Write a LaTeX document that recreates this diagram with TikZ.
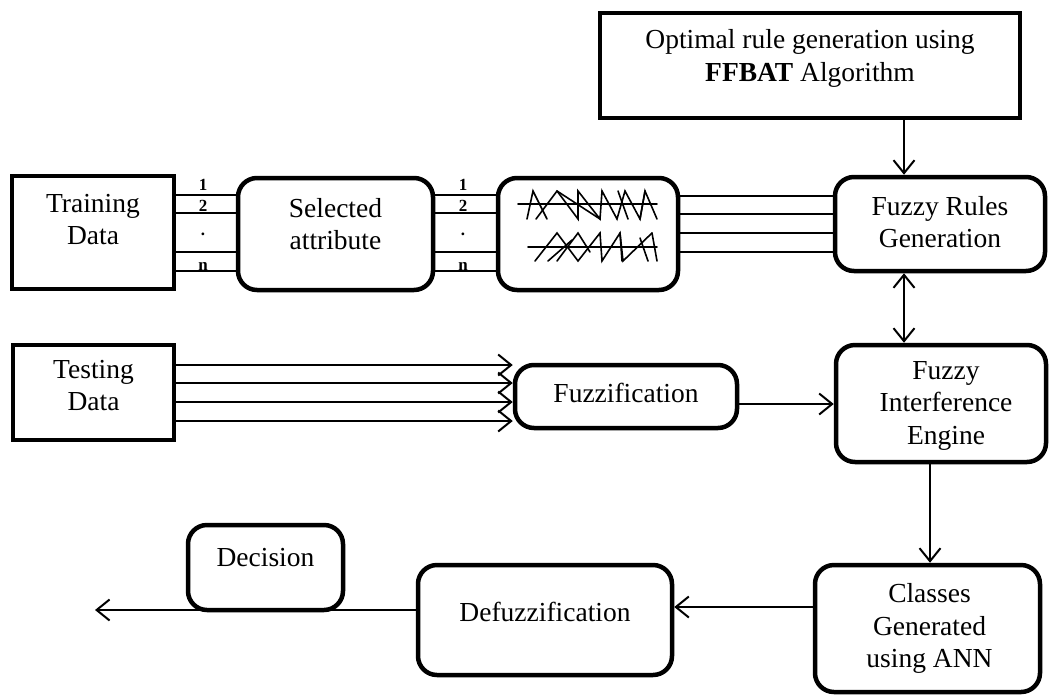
\documentclass[tikz,border=0pt]{standalone}
\usepackage{fontspec}
\setmainfont{Liberation Serif}
\usetikzlibrary{arrows.meta,calc}
\begin{document}
\begin{tikzpicture}[x=1pt,y=-1pt,
  box/.style={draw,line width=4.5pt,inner sep=0pt},
  rbox/.style={box,rounded corners=19pt},
  txt/.style={font=\fontsize{27.5}{32.5}\selectfont,align=center,inner sep=0pt},
  lbl/.style={font=\fontsize{17}{17}\selectfont\bfseries,inner sep=0pt},
  wire/.style={line width=2pt},
  tip/.tip={Straight Barb[length=13pt,width=21pt,line width=2pt]},
  arr/.style={wire,-tip},
  darr/.style={wire,tip-tip},
  zig/.style={line width=1.6pt,line cap=round},
]
\useasboundingbox (0,0) rectangle (1052,697);

% boxes
\node[box,minimum width=420pt,minimum height=105pt] (opt) at (810,65.5) {};
\node[box,minimum width=162pt,minimum height=113pt] (train) at (93,232.5) {};
\node[box,minimum width=161pt,minimum height=95pt] (test) at (93.5,392.5) {};
\node[rbox,minimum width=195pt,minimum height=112pt] (sel) at (335.5,234) {};
\node[rbox,minimum width=180pt,minimum height=112pt] (fset) at (588,234) {};
\node[rbox,minimum width=210pt,minimum height=94pt] (rules) at (940,224) {};
\node[rbox,minimum width=210pt,minimum height=117pt] (fie) at (941,403.5) {};
\node[rbox,minimum width=225pt,minimum height=127pt] (cls) at (927.5,628.5) {};
\node[rbox,minimum width=254pt,minimum height=110pt] (defz) at (545,620) {};
\node[rbox,minimum width=155pt,minimum height=85pt] (dec) at (265.5,567.5) {};
\node[rbox,minimum width=222pt,minimum height=63pt] (fuzz) at (626,396.5) {};

% texts
\node[txt] (optT) at ($(opt.center)+(0,-7)$) {Optimal rule generation using\\\textbf{FFBAT} Algorithm};
\node[txt] (trainT) at ($(train.center)+(0,-13)$) {Training\\Data};
\node[txt] (testT) at ($(test.center)+(0,-7)$) {Testing\\Data};
\node[txt] (selT) at ($(sel.center)+(0,-10)$) {Selected\\attribute};
\node[txt] (rulesT) at ($(rules.center)+(0,-2)$) {Fuzzy Rules\\Generation};
\node[txt] (fieT) at ($(fie.center)+(5,2)$) {Fuzzy\\Interference\\Engine};
\node[txt] (clsT) at ($(cls.center)+(2,0)$) {Classes\\Generated\\using ANN};
\node[txt] (defzT) at ($(defz.center)+(0,-8)$) {Defuzzification};
\node[txt] (decT) at ($(dec.center)+(0,-10)$) {Decision};
\node[txt] (fuzzT) at ($(fuzz.center)+(0,-4)$) {Fuzzification};

% training -> selected -> fuzzy sets wires
\foreach \y in {195,213,252,271}{
  \draw[wire] (train.east |- 0,\y) -- (sel.west |- 0,\y);
  \draw[wire] (sel.east |- 0,\y) -- (fset.west |- 0,\y);
}
\foreach \xx in {203,463}{
  \node[lbl] at (\xx,185) {1};
  \node[lbl] at (\xx,206) {2};
  \node[lbl] at (\xx,234) {.};
  \node[lbl] at (\xx,266) {n};
}
% fuzzy sets -> rules
\foreach \y in {196,214,233,252}{
  \draw[wire] (fset.east |- 0,\y) -- (rules.west |- 0,\y);
}
% testing -> fuzzification
\foreach \y in {365,383,402,421}{
  \draw[arr] (test.east |- 0,\y) -- (fuzz.west |- 0,\y);
}
% other arrows
\draw[arr] (opt.south -| 904,0) -- (rules.north -| 904,0);
\draw[darr] (rules.south -| 904,0) -- (fie.north -| 904,0);
\draw[arr] (fuzz.east |- 0,404) -- (fie.west |- 0,404);
\draw[arr] (fie.south -| 930,0) -- (cls.north -| 930,0);
\draw[arr] (cls.west |- 0,607) -- (defz.east |- 0,607);
\coordinate (out) at (95,610);
\draw[arr] (defz.west |- out) -- (out);

% fuzzy set sketches
\draw[zig] (518,204) -- (657,204);
\draw[zig] (527,219) -- (533,191) -- (547,219);
\draw[zig] (536,219) -- (557,191) -- (600,219);
\draw[zig] (557,191) -- (578,219) -- (578,191) -- (600,219) -- (602,191) -- (617,219) -- (625,191) -- (640,219) -- (645,191) -- (657,219);
\draw[zig] (618,191) -- (628,219);
\draw[zig] (645,191) -- (640,219);
\draw[zig] (528,247) -- (657,247);
\draw[zig] (535,261) -- (557,233) -- (578,261) -- (600,233) -- (602,261) -- (620,233) -- (623,261) -- (652,233);
\draw[zig] (548,261) -- (572,240);
\draw[zig] (557,261) -- (578,233) -- (590,252);
\draw[zig] (620,233) -- (622,261);
\draw[zig] (652,233) -- (657,261);
\draw[zig] (640,238) -- (648,261);
\end{tikzpicture}
\end{document}
